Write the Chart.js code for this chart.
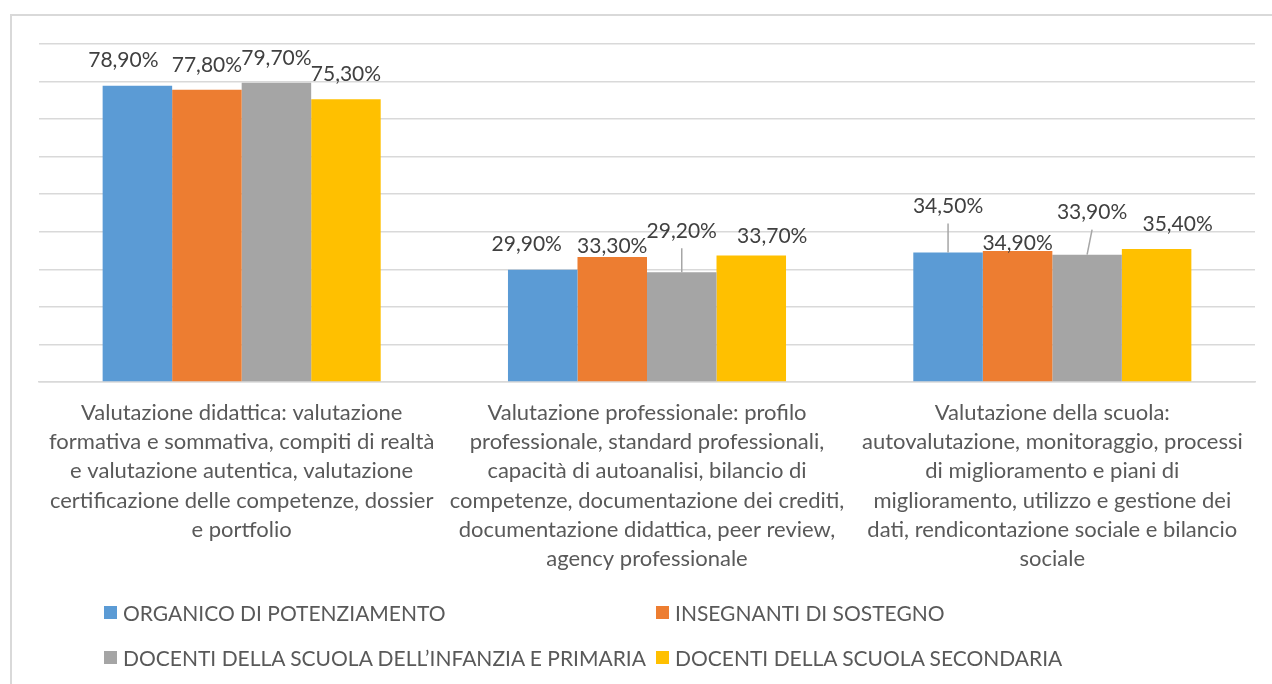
<!DOCTYPE html>
<html>
<head>
<meta charset="utf-8">
<script src="https://cdn.jsdelivr.net/npm/chart.js@4.4.1/dist/chart.umd.min.js"></script>
<style>
  html, body { margin: 0; padding: 0; background: #fff; }
  #wrap { position: relative; width: 1272px; height: 684px; overflow: hidden; }
  #frame { position: absolute; left: 10px; top: 14px; width: 1400px; height: 800px; border: 2px solid #d9d9d9; }
  #chart { position: absolute; left: 0; top: 0; }
  #legend { position: absolute; left: 104px; top: 590px; display: grid; grid-template-columns: 552px 552px;
            font-family: Lato, sans-serif; font-size: 21px; color: #595959; }
  .item { display: flex; align-items: center; height: 45px; white-space: nowrap; }
  .box { width: 13px; height: 13px; margin-right: 6px; flex: none; }
</style>
</head>
<body>
<div id="wrap">
  <div id="frame"></div>
  <canvas id="chart" width="1272" height="684"></canvas>
  <div id="legend"></div>
</div>
<script>
// categories (one array of lines per category, as wrapped in the original)
const categories = [
  ["Valutazione didattica: valutazione", "formativa e sommativa, compiti di realtà", "e valutazione autentica, valutazione", "certificazione delle competenze, dossier", "e portfolio"],
  ["Valutazione professionale: profilo", "professionale, standard professionali,", "capacità di autoanalisi, bilancio di", "competenze, documentazione dei crediti,", "documentazione didattica, peer review,", "agency professionale"],
  ["Valutazione della scuola:", "autovalutazione, monitoraggio, processi", "di miglioramento e piani di", "miglioramento, utilizzo e gestione dei", "dati, rendicontazione sociale e bilancio", "sociale"]
];

const seriesNames = [
  "ORGANICO DI POTENZIAMENTO",
  "INSEGNANTI DI SOSTEGNO",
  "DOCENTI DELLA SCUOLA DELL\u2019INFANZIA E PRIMARIA",
  "DOCENTI DELLA SCUOLA SECONDARIA"
];

const organico = [0.789, 0.299, 0.345];
const sostegno = [0.778, 0.333, 0.349];
const infanziaPrimaria = [0.797, 0.292, 0.339];
const secondaria = [0.753, 0.337, 0.354];

const yTicks = [0, 0.1, 0.2, 0.3, 0.4, 0.5, 0.6, 0.7, 0.8, 0.9];

const colors = ["#5B9BD5", "#ED7D31", "#A5A5A5", "#FFC000"];

// manual nudges of the data labels, [series][category] -> [dx, dy]
const labelNudge = [
  [[-14, 0], [-16, 0], [0, -21]],
  [[0, 0], [0, 14], [0, 17]],
  [[0, 1], [0, -16], [5, -17]],
  [[0, 0], [21, 6], [21, 0]]
];

const fmt = (v) => (v * 100).toFixed(2).replace(".", ",") + "%";

const valueLabels = {
  id: "valueLabels",
  afterDatasetsDraw(chart) {
    const ctx = chart.ctx;
    ctx.save();
    ctx.font = "21px Lato";
    ctx.textAlign = "center";
    ctx.textBaseline = "middle";
    chart.data.datasets.forEach((ds, i) => {
      chart.getDatasetMeta(i).data.forEach((bar, j) => {
        const [dx, dy] = labelNudge[i][j];
        const lx = bar.x + dx;
        const ly = bar.y - 25 + dy;
        if (dy < -10) {
          // leader line from moved label back to the bar
          ctx.strokeStyle = "#a6a6a6";
          ctx.lineWidth = 1.5;
          ctx.beginPath();
          ctx.moveTo(lx, ly + 17);
          ctx.lineTo(bar.x, bar.y);
          ctx.stroke();
        }
        ctx.fillStyle = "#404040";
        ctx.fillText(fmt(ds.data[j]), lx, ly);
      });
    });
    ctx.restore();
  }
};

const seriesData = [organico, sostegno, infanziaPrimaria, secondaria];

const chart = new Chart(document.getElementById("chart"), {
  type: "bar",
  data: {
    labels: categories,
    datasets: seriesData.map((d, i) => ({
      label: seriesNames[i],
      data: d,
      backgroundColor: colors[i],
      borderWidth: 0,
      categoryPercentage: 0.686,
      barPercentage: 1.0
    }))
  },
  options: {
    responsive: false,
    animation: false,
    layout: { padding: { top: 44, left: 39, right: 17, bottom: 0 } },
    plugins: {
      legend: { display: false },
      tooltip: { enabled: false }
    },
    scales: {
      x: {
        grid: { display: false, drawTicks: false },
        border: { display: true, color: "#d9d9d9", width: 1.5 },
        ticks: {
          color: "#595959",
          padding: 16,
          maxRotation: 0,
          autoSkip: false,
          font: { family: "Lato", size: 22, lineHeight: 1.33 }
        },
        afterFit: (scale) => { scale.height = 302; }
      },
      y: {
        min: 0,
        max: 0.9,
        afterBuildTicks: (scale) => { scale.ticks = yTicks.map((v) => ({ value: v })); },
        ticks: { display: false },
        grid: { color: "#d9d9d9", lineWidth: 1.5, drawTicks: false },
        border: { display: false }
      }
    }
  },
  plugins: [valueLabels]
});

// legend in two equal columns, like the original
const legendEl = document.getElementById("legend");
chart.data.datasets.forEach((ds) => {
  const item = document.createElement("div");
  item.className = "item";
  const box = document.createElement("span");
  box.className = "box";
  box.style.background = ds.backgroundColor;
  const txt = document.createElement("span");
  txt.textContent = ds.label;
  item.appendChild(box);
  item.appendChild(txt);
  legendEl.appendChild(item);
});
</script>
</body>
</html>
